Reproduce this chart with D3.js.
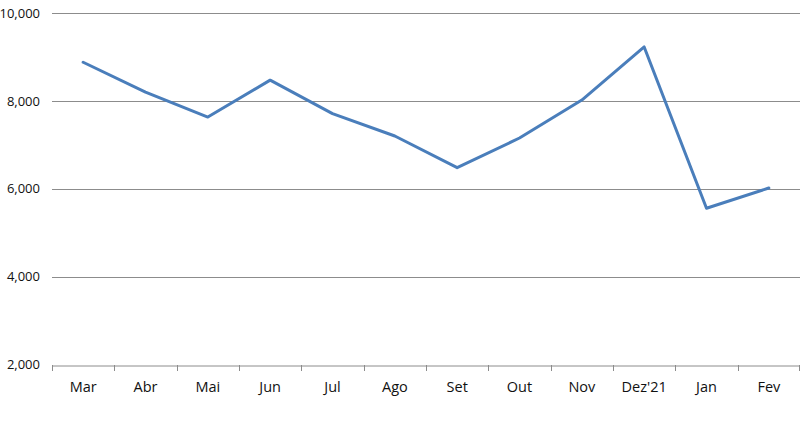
<!DOCTYPE html>
<html><head><meta charset="utf-8">
<script src="https://cdn.jsdelivr.net/npm/d3@7"></script>
<style>body{margin:0;background:#fff}</style>
</head><body>
<svg id="c" width="800" height="440"></svg>
<script>
const categories = ["Mar","Abr","Mai","Jun","Jul","Ago","Set","Out","Nov","Dez'21","Jan","Fev"];
const values = [8885, 8205, 7636, 8477, 7716, 7205, 6484, 7159, 8023, 9234, 5560, 6020];
const yTicks = [2000, 4000, 6000, 8000, 10000];

(function () {
const svg = d3.select("#c");
const mLeft = 52, mRight = 800, mTop = 13.3, mBottom = 364.5;
const x = d3.scaleBand().domain(categories).range([mLeft, mRight]);
const y = d3.scaleLinear().domain([2000, 10000]).range([mBottom, mTop]);
const font = "'Open Sans', sans-serif";

// gridlines
svg.append("g").selectAll("line").data(yTicks.filter(d => d > 2000)).join("line")
  .attr("x1", mLeft).attr("x2", mRight)
  .attr("y1", d => Math.round(y(d)) + 0.5).attr("y2", d => Math.round(y(d)) + 0.5)
  .attr("stroke", "#8c8c8c").attr("stroke-width", 1);

// y labels
svg.append("g").selectAll("text").data(yTicks).join("text")
  .attr("x", 40).attr("y", d => y(d)).attr("dy", "0.35em")
  .attr("text-anchor", "end").attr("font-family", font).attr("font-size", 13)
  .attr("fill", "#111").text(d => d3.format(",")(d));

// x axis
const xa = svg.append("g").attr("transform", `translate(0,${Math.round(mBottom) + 0.5})`)
  .call(d3.axisBottom(x).tickSize(0).tickPadding(16));
xa.select(".domain").attr("stroke", "#8c8c8c");
xa.selectAll("text").attr("font-family", font).attr("font-size", 14.5).attr("fill", "#111");
// category boundary ticks
const bounds = categories.map(c => x(c)).concat([mRight - 1]);
svg.append("g").selectAll("line").data(bounds).join("line")
  .attr("x1", d => Math.round(d) + 0.5).attr("x2", d => Math.round(d) + 0.5)
  .attr("y1", Math.round(mBottom)).attr("y2", Math.round(mBottom) + 6)
  .attr("stroke", "#8c8c8c");

// line
const line = d3.line().x((d, i) => x(categories[i]) + x.bandwidth() / 2).y(d => y(d));
svg.append("path").datum(values).attr("d", line)
  .attr("fill", "none").attr("stroke", "#4a7ebb").attr("stroke-width", 3)
  .attr("stroke-linejoin", "round").attr("stroke-linecap", "round");
})();
</script>
</body></html>
